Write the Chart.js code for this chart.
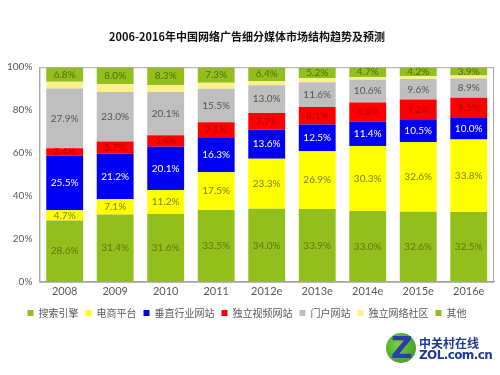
<!DOCTYPE html>
<html>
<head>
<meta charset="utf-8">
<script src="https://cdn.jsdelivr.net/npm/chart.js@4.4.0/dist/chart.umd.min.js"></script>
<style>
  body { margin: 0; background: #fff; }
  #wrap { position: relative; width: 500px; height: 375px; }
  #logo { position: absolute; left: 386px; top: 333px; width: 112px; height: 36px; }
  #logo .mark { position: absolute; left: 0; top: 0; width: 30px; height: 30px; border-radius: 50%;
    background: radial-gradient(circle at 40% 40%, #7cd23a, #2f8f2a); }
  #logo .mark span { position: absolute; left: 5px; top: -3px; font: bold 30px "DejaVu Sans", sans-serif; color: #2a3fa8; }
  #logo .cn { position: absolute; left: 33px; top: 1px; font: bold 12px "Noto Sans CJK SC", sans-serif; color: #1d3a9a; }
  #logo .en { position: absolute; left: 33px; top: 15px; font: bold 12px "DejaVu Sans", sans-serif; color: #1d3a9a; letter-spacing: -0.6px; }
</style>
</head>
<body>
<div id="wrap">
  <canvas id="chart" width="500" height="375"></canvas>
  <div id="logo"><div class="mark"><span>Z</span></div><div class="cn">中关村在线</div><div class="en">ZOL.com.cn</div></div>
</div>
<script>
var years = ['2008', '2009', '2010', '2011', '2012e', '2013e', '2014e', '2015e', '2016e'];
var search = [28.6, 31.4, 31.6, 33.5, 34.0, 33.9, 33.0, 32.6, 32.5];
var ecommerce = [4.7, 7.1, 11.2, 17.5, 23.3, 26.9, 30.3, 32.6, 33.8];
var vertical = [25.5, 21.2, 20.1, 16.3, 13.6, 12.5, 11.4, 10.5, 10.0];
var video = [3.4, 5.7, 5.4, 7.1, 7.7, 8.1, 8.8, 9.2, 9.5];
var portal = [27.9, 23.0, 20.1, 15.5, 13.0, 11.6, 10.6, 9.6, 8.9];
var community = [3.1, 3.6, 3.3, 2.8, 2.0, 1.8, 1.2, 1.3, 1.4];
var others = [6.8, 8.0, 8.3, 7.3, 6.4, 5.2, 4.7, 4.2, 3.9];
var yTicks = [0, 20, 40, 60, 80, 100];

var font = "'Lato', 'Noto Sans CJK SC', sans-serif";

function ds(label, data, color, textColor) {
    return {
        label: label,
        data: data,
        backgroundColor: color,
        borderWidth: 0,
        barPercentage: 0.73,
        categoryPercentage: 1,
        textColor: textColor
    };
}

var segLabels = {
    id: 'segLabels',
    afterDatasetsDraw: function (chart) {
        var ctx = chart.ctx;
        ctx.save();
        ctx.font = '10px ' + font;
        ctx.textAlign = 'center';
        ctx.textBaseline = 'middle';
        chart.data.datasets.forEach(function (d, i) {
            if (!d.textColor) return;
            chart.getDatasetMeta(i).data.forEach(function (bar, j) {
                ctx.fillStyle = d.textColor;
                ctx.fillText(d.data[j].toFixed(1) + '%', bar.x, (bar.y + bar.base) / 2);
            });
        });
        ctx.restore();
    }
};

var frame = {
    id: 'frame',
    afterDraw: function (chart) {
        var a = chart.chartArea, ctx = chart.ctx;
        ctx.save();
        ctx.strokeStyle = '#a6a6a6';
        ctx.lineWidth = 1;
        ctx.strokeRect(a.left + 0.5, a.top + 0.5, a.right - a.left - 1, a.bottom - a.top);
        ctx.restore();
    }
};

var ctx = document.getElementById('chart').getContext('2d');
var chart = new Chart(ctx, {
    type: 'bar',
    data: {
        labels: years,
        datasets: [
            ds('搜索引擎', search, '#92bf1c', '#5b7a10'),
            ds('电商平台', ecommerce, '#ffff00', '#7d7d1a'),
            ds('垂直行业网站', vertical, '#0000f5', '#ffffff'),
            ds('独立视频网站', video, '#ff0000', '#b00000'),
            ds('门户网站', portal, '#bfbfbf', '#555555'),
            ds('独立网络社区', community, '#fdf08a', null),
            ds('其他', others, '#92bf1c', '#4f6e0a')
        ]
    },
    options: {
        responsive: false,
        animation: false,
        layout: { padding: { left: 0, right: 6, top: 30, bottom: 47 } },
        plugins: {
            title: {
                display: true,
                text: '2006-2016年中国网络广告细分媒体市场结构趋势及预测',
                color: '#111',
                font: { family: "'Noto Sans CJK SC', sans-serif", size: 11, weight: 'bold' },
                padding: { top: 0, bottom: 24 }
            },
            legend: {
                position: 'bottom',
                labels: {
                    boxWidth: 6,
                    boxHeight: 6,
                    padding: 7,
                    color: '#595959',
                    font: { family: "'Noto Sans CJK SC', sans-serif", size: 10 }
                }
            },
            tooltip: { enabled: false }
        },
        scales: {
            x: {
                stacked: true,
                grid: { display: false, drawTicks: false },
                border: { color: '#a6a6a6' },
                ticks: { color: '#595959', font: { family: font, size: 11 }, padding: 3 }
            },
            y: {
                stacked: true,
                min: 0,
                max: 100,
                afterBuildTicks: function (axis) {
                    axis.ticks = yTicks.map(function (v) { return { value: v }; });
                },
                grid: { display: false, drawTicks: false },
                border: { color: '#a6a6a6' },
                ticks: {
                    color: '#595959',
                    font: { family: font, size: 10 },
                    padding: 7,
                    callback: function (v) { return v + '%'; }
                }
            }
        }
    },
    plugins: [segLabels, frame]
});
</script>
</body>
</html>
